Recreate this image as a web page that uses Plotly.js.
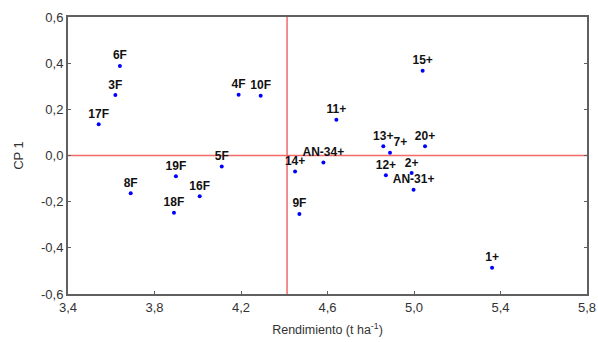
<!DOCTYPE html>
<html>
<head>
<meta charset="utf-8">
<script src="https://cdn.plot.ly/plotly-3.0.1.min.js"></script>
<style>html,body{margin:0;padding:0;background:#fff;}#chart{width:598px;height:342px;}</style>
</head>
<body>
<div id="chart"></div>
<script>
// Data
const labels = ["6F","3F","17F","4F","10F","15+","11+","13+","7+","20+","AN-34+","14+","12+","2+","AN-31+","9F","1+","5F","19F","8F","16F","18F"];
const rendimiento = [3.640,3.619,3.542,4.189,4.291,5.040,4.641,4.858,4.889,5.051,4.581,4.450,4.870,4.989,4.998,4.470,5.361,4.111,3.899,3.690,4.009,3.890];
const cp1 = [0.388,0.262,0.135,0.263,0.259,0.367,0.155,0.040,0.012,0.040,-0.030,-0.069,-0.086,-0.076,-0.148,-0.253,-0.486,-0.048,-0.090,-0.164,-0.177,-0.248];
const meanRendimiento = 4.413;
const meanCP1 = 0;
const xTickVals = [3.4,3.8,4.2,4.6,5.0,5.4,5.8];
const xTickText = ["3,4","3,8","4,2","4,6","5,0","5,4","5,8"];
const yTickVals = [-0.6,-0.4,-0.2,0,0.2,0.4,0.6];
const yTickText = ["-0,6","-0,4","-0,2","0,0","0,2","0,4","0,6"];

const textPos = labels.map(l => l === "7+" ? "top right" : "top center");

const trace = {
  x: rendimiento, y: cp1, text: labels,
  type: "scatter", mode: "markers+text",
  textposition: textPos,
  marker: {color: "#0000ff", size: 4},
  textfont: {family: "Liberation Sans, Arial, sans-serif", size: 12, color: "#111", weight: "bold"},
  cliponaxis: false,
  hoverinfo: "none"
};

const axisCommon = {
  showgrid: false, zeroline: false,
  showline: true, linecolor: "#606060", linewidth: 2,
  ticks: "inside", ticklen: 3, tickcolor: "#606060", tickwidth: 1,
  tickfont: {family: "Liberation Sans, Arial, sans-serif", size: 13, color: "#333"},
  tickmode: "array"
};

const layout = {
  width: 598, height: 342,
  margin: {l: 68, r: 11, t: 17, b: 48},
  paper_bgcolor: "#fff", plot_bgcolor: "#fff",
  showlegend: false,
  xaxis: Object.assign({}, axisCommon, {
    range: [3.4, 5.8], tickvals: xTickVals, ticktext: xTickText, mirror: true,
    title: {text: "Rendimiento (t ha<sup>-1</sup>)", font: {family: "Liberation Sans, Arial, sans-serif", size: 12.5, color: "#333"}, standoff: 12}
  }),
  yaxis: Object.assign({}, axisCommon, {
    range: [-0.6, 0.6], tickvals: yTickVals, ticktext: yTickText, mirror: "ticks",
    title: {text: "CP 1", font: {family: "Liberation Sans, Arial, sans-serif", size: 13, color: "#333"}, standoff: 14}
  }),
  shapes: [
    {type: "line", xref: "x", yref: "paper", x0: meanRendimiento, x1: meanRendimiento, y0: 0, y1: 1, line: {color: "#f26a6a", width: 1.5}, layer: "below"},
    {type: "line", xref: "paper", yref: "y", x0: 0, x1: 1, y0: meanCP1, y1: meanCP1, line: {color: "#f26a6a", width: 1.5}, layer: "below"}
  ]
};

Plotly.newPlot("chart", [trace], layout, {displayModeBar: false, staticPlot: true});
</script>
</body>
</html>
